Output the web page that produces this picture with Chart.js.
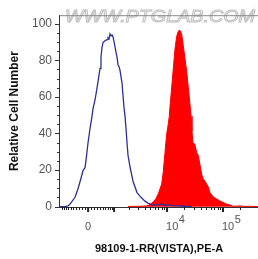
<!DOCTYPE html>
<html lang="en">
<head>
<meta charset="utf-8">
<title>98109-1-RR(VISTA),PE-A</title>
<script src="https://cdn.jsdelivr.net/npm/chart.js@4/dist/chart.umd.min.js"></script>
<style>
  html, body { margin: 0; padding: 0; background: #fff; }
  #cadre { width: 258px; height: 259px; }
</style>
</head>
<body>
<div id="cadre"><canvas id="histo"></canvas></div>
<script>
// ============================================================
//  Histogramme cytométrie — contrôle (bleu) vs marqué (rouge)
//  abscisse en unités "décades" (échelle type logicle)
// ============================================================

/* ── Données ────────────────────────────────────────────── */
const blueX = [2.089, 2.179, 2.232, 2.268, 2.357, 2.411, 2.464, 2.500, 2.536, 2.554,
               2.589, 2.625, 2.661, 2.679, 2.714, 2.732, 2.768, 2.804, 2.821, 2.839,
               2.857, 2.893, 2.929, 2.946, 2.964, 2.982, 3.000, 3.018, 3.036, 3.054,
               3.089, 3.107, 3.125, 3.143, 3.161, 3.196, 3.214, 3.232, 3.250, 3.268,
               3.286, 3.304, 3.339, 3.393, 3.464, 3.536, 3.607, 3.661, 3.750, 3.839,
               3.911, 3.964, 4.018, 4.089, 4.196, 4.321, 4.446];
const blueY = [0, 0, 0.4, 1.4, 5.1, 9.8, 15.5, 19.7, 21.3, 25.4,
               34.8, 42.7, 49.5, 53.6, 58.3, 61.5, 68.3, 75.6, 81.8, 87.0,
               89.7, 90.7, 91.3, 92.3, 91.7, 94.4, 93.3, 93.9, 92.8, 90.2,
               84.4, 81.8, 77.6, 76.5, 74.5, 67.7, 60.9, 54.1, 49.5, 42.7,
               34.8, 28.0, 21.8, 13.9, 7.7, 5.1, 3.0, 1.9, 0.9, 1.1,
               1.4, 0.6, 1.1, 0.6, 0.4, 0.2, 0];

const redX = [3.304, 3.518, 3.638, 3.696, 3.755, 3.804, 3.845, 3.875, 3.905, 3.934,
              3.964, 3.995, 4.018, 4.041, 4.054, 4.084, 4.113, 4.143, 4.173, 4.196,
              4.220, 4.241, 4.263, 4.291, 4.321, 4.352, 4.380, 4.411, 4.429, 4.446,
              4.464, 4.495, 4.530, 4.559, 4.589, 4.620, 4.643, 4.679, 4.738, 4.768,
              4.827, 4.880, 4.946, 5.030, 5.066, 5.125, 5.184, 5.304, 5.393, 5.482, 5.625];
const redY = [0.1, 0.2, 0.4, 1.1, 2.6, 4.5, 7.1, 9.7, 12.4, 19.2,
              29.6, 40.0, 44.2, 49.4, 54.9, 65.3, 75.7, 86.2, 93.1, 95.4,
              96.6, 95.9, 94.0, 87.9, 80.9, 73.9, 65.2, 55.7, 49.5, 41.2,
              34.6, 34.3, 29.6, 28.0, 22.8, 17.6, 15.5, 13.9, 10.7, 7.7,
              5.2, 4.3, 3.1, 1.9, 1.4, 0.9, 0.2, 0.4, 0.1, 0.2, 0];

const yTickVals   = [0, 5, 10, 15, 20, 25, 30, 35, 40, 45, 50, 55, 60, 65, 70, 75, 80, 85, 90, 95, 100];
const yTickLabels = ['0', '20', '40', '60', '80', '100'];

// graduations X en valeurs brutes (transformées par logicle())
const xMajorVals = [0, 1e3, 1e4, 1e5];
const xMinorVals = [-1000, -900, -800, -700, -600, -500, -400, -300, -200, -100,
                    100, 200, 300, 400, 500, 600, 700, 800, 900,
                    2e3, 3e3, 4e3, 5e3, 6e3, 7e3, 8e3, 9e3,
                    2e4, 3e4, 4e4, 5e4, 6e4, 7e4, 8e4, 9e4, 2e5];
const xLabelVals  = [0, 1e4, 1e5];
const xLabelBase  = ['0', '10', '10'];
const xLabelExp   = ['', '4', '5'];

const watermark = 'WWW.PTGLAB.COM';

/* ── Échelle type logicle (asinh) ───────────────────────── */
const W_LIN = 390;
function logicle(v) {
    return Math.asinh(v / (2 * W_LIN)) / Math.LN10 + Math.log10(W_LIN);
}

const POLICE = '"Liberation Sans", Arial, sans-serif';

/* ── Décor : filigrane, cadre, graduations, étiquettes X ── */
const decor = {
    id: 'decor',
    beforeDatasetsDraw(chart) {
        const { ctx } = chart;
        ctx.save();
        ctx.font = 'italic 17px ' + POLICE;
        const w = ctx.measureText(watermark).width;
        ctx.translate(65, 22);
        ctx.scale(190 / w, 1);
        ctx.strokeStyle = '#c2c2c2';
        ctx.lineWidth = 1;
        ctx.strokeText(watermark, 0, 0);
        ctx.restore();
    },
    afterDraw(chart) {
        const { ctx, chartArea: a, scales: { x, y } } = chart;
        ctx.save();

        // cadre haut (gris), axes gauche et bas (foncés)
        ctx.strokeStyle = '#8a8a8a';
        ctx.lineWidth = 1;
        ctx.beginPath();
        ctx.moveTo(a.left - 1, a.top + 0.5);
        ctx.lineTo(a.right, a.top + 0.5);
        ctx.stroke();

        ctx.strokeStyle = '#333';
        ctx.beginPath();
        ctx.moveTo(a.left - 0.5, a.top);
        ctx.lineTo(a.left - 0.5, a.bottom + 0.5);
        ctx.lineTo(a.right, a.bottom + 0.5);
        ctx.stroke();

        // graduations Y
        yTickVals.forEach(v => {
            const py = Math.round(y.getPixelForValue(v)) + 0.5;
            const long = v % 20 === 0 ? 5 : 3;
            ctx.beginPath();
            ctx.moveTo(a.left - long, py);
            ctx.lineTo(a.left, py);
            ctx.stroke();
        });

        // graduations X
        ctx.strokeStyle = '#222';
        xMinorVals.forEach(v => {
            const px = Math.round(x.getPixelForValue(logicle(v))) + 0.5;
            ctx.lineWidth = 1;
            ctx.beginPath();
            ctx.moveTo(px, a.bottom);
            ctx.lineTo(px, a.bottom + 3);
            ctx.stroke();
        });
        xMajorVals.forEach(v => {
            const px = x.getPixelForValue(logicle(v));
            ctx.lineWidth = 2;
            ctx.beginPath();
            ctx.moveTo(px, a.bottom);
            ctx.lineTo(px, a.bottom + 5);
            ctx.stroke();
        });

        // étiquettes X avec exposant
        ctx.fillStyle = '#555';
        ctx.textBaseline = 'alphabetic';
        xLabelVals.forEach((v, i) => {
            const px = x.getPixelForValue(logicle(v));
            ctx.font = '11px ' + POLICE;
            if (!xLabelExp[i]) {
                ctx.textAlign = 'center';
                ctx.fillText(xLabelBase[i], px, 230);
                return;
            }
            ctx.textAlign = 'left';
            const bw = ctx.measureText(xLabelBase[i]).width;
            ctx.fillText(xLabelBase[i], px - 1, 230);
            ctx.fillText(xLabelExp[i], px - 1 + bw + 0.5, 223);
        });
        ctx.restore();
    }
};

/* ── Graphique ──────────────────────────────────────────── */
new Chart(document.getElementById('histo'), {
    type: 'line',
    data: {
        datasets: [
            {
                label: 'Contrôle',
                data: blueX.map((u, i) => ({ x: u, y: blueY[i] })),
                borderColor: '#2a2f9c',
                borderWidth: 1.3,
                pointRadius: 0,
                tension: 0,
                fill: false,
                order: 0
            },
            {
                label: '98109-1-RR',
                data: redX.map((u, i) => ({ x: u, y: redY[i] })),
                borderColor: '#ff0000',
                backgroundColor: '#ff0000',
                borderWidth: 1,
                pointRadius: 0,
                tension: 0,
                fill: 'origin',
                order: 1
            }
        ]
    },
    options: {
        responsive: true,
        maintainAspectRatio: false,
        animation: false,
        layout: { padding: { top: 6, right: 0, left: 0, bottom: 0 } },
        plugins: { legend: { display: false }, tooltip: { enabled: false } },
        scales: {
            x: {
                type: 'linear',
                min: 2.089,
                max: 5.625,
                grid: { display: false, drawTicks: false },
                border: { display: false },
                ticks: { display: false },
                title: {
                    display: true,
                    text: '98109-1-RR(VISTA),PE-A',
                    color: '#111',
                    font: { family: POLICE, size: 11, weight: 'bold' },
                    padding: { top: 0, bottom: 3 }
                },
                afterFit: s => { s.height = 52; }
            },
            y: {
                min: -0.2,
                max: 104.65,
                grid: { display: false, drawTicks: false },
                border: { display: false },
                afterBuildTicks: s => { s.ticks = yTickVals.map(v => ({ value: v })); },
                ticks: {
                    autoSkip: false,
                    padding: 8,
                    color: '#555',
                    font: { family: POLICE, size: 12 },
                    callback: v => (v % 20 === 0 ? yTickLabels[v / 20] : '')
                },
                title: {
                    display: true,
                    text: 'Relative Cell Number',
                    color: '#111',
                    font: { family: POLICE, size: 12, weight: 'bold' },
                    padding: { top: 7, bottom: 0 }
                },
                afterFit: s => { s.width = 60; }
            }
        }
    },
    plugins: [decor]
});
</script>
</body>
</html>
